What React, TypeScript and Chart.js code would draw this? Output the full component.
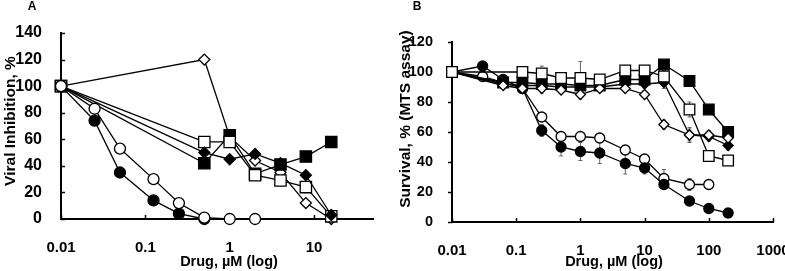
import React, { useEffect, useRef } from 'react';
import { Chart, registerables } from 'chart.js';
Chart.register(...registerables);

// ---------- Panel A: Viral inhibition ----------
const xCirclesA = [0.01, 0.025, 0.05, 0.125, 0.25, 0.5, 1, 2];
const openCirclesA = [100, 83, 53, 30, 12, 1, 0, 0];
const filledCirclesA = [100, 74, 35, 14, 4, 0, null, null];
const xDrugA = [0.01, 0.5, 1, 2, 4, 8, 16];
const filledSquaresA = [100, 42, 63, 34, 41, 47, 58];
const openSquaresA = [100, 58, 58, 33, 29, 24, 2];
const filledDiamondsA = [100, 50, 45, 49, 42, 33, 3];
const openDiamondsA = [100, 120, 62, 44, 35, 12, 0];
const xTicksA = [0.01, 0.1, 1, 10];
const yTicksA = [0, 20, 40, 60, 80, 100, 120, 140];

// ---------- Panel B: Survival (MTS assay) ----------
const xDrugB = [0.01, 0.03, 0.0625, 0.125, 0.25, 0.5, 1, 2, 5, 10, 20, 50, 100, 200];
const filledCirclesB = [100, 104, 95, 89, 61, 50, 47, 46, 39, 36, 25, 14, 9, 6];
const filledCirclesBErr = [0, 3, 3, 2, 4, 6, 6, 7, 7, 4, 2, 2, 1, 1];
const openCirclesB = [100, 97, 93, 89, 70, 57, 57, 56, 48, 42, 29, 25, 25, null];
const openCirclesBErr = [0, 2, 2, 2, 3, 3, 2, 2, 3, 3, 6, 4, 2, 0];
const filledSquaresB = [100, null, 93, 93, 92, 92, 91, 91, 95, 95, 105, 94, 75, 60];
const filledSquaresBErr = [0, 0, 2, 2, 2, 2, 2, 2, 2, 2, 2, 3, 3, 3];
const openSquaresB = [100, null, null, 100, 99, 96, 96, 95, 101, 101, 97, 75, 44, 41];
const openSquaresBErr = [0, 0, 0, 2, 5, 2, 11, 2, 3, 2, 4, 5, 3, 2];
const filledDiamondsB = [100, null, 92, 91, 91, 90, 90, 90, 92, 92, 93, 58, 57, 51];
const filledDiamondsBErr = [0, 0, 2, 2, 2, 2, 2, 2, 2, 2, 4, 4, 3, 3];
const openDiamondsB = [100, null, 91, 89, 89, 88, 85, 89, 89, 85, 65, 58, 58, 56];
const openDiamondsBErr = [0, 0, 2, 2, 3, 2, 3, 2, 2, 2, 3, 5, 3, 2];
const xTicksB = [0.01, 0.1, 1, 10, 100, 1000];
const yTicksB = [0, 20, 40, 60, 80, 100, 120];

const FONT = 'Liberation Sans, Arial, Helvetica, sans-serif';

function series(xs: number[], ys: (number | null)[], style: string, filled: boolean, r: number, errs?: number[]) {
  const data: { x: number; y: number }[] = [];
  const errors: number[] = [];
  xs.forEach((x, i) => {
    const v = ys[i];
    if (v !== null && v !== undefined) {
      data.push({ x, y: v });
      errors.push(errs ? errs[i] : 0);
    }
  });
  return {
    data,
    errors,
    borderColor: '#000',
    borderWidth: 1.3,
    pointBorderColor: '#000',
    pointBorderWidth: 1.3,
    pointBackgroundColor: filled ? '#000' : '#fff',
    pointStyle: style,
    pointRadius: r,
    pointHoverRadius: r,
    clip: false as any,
    tension: 0,
    fill: false,
    spanGaps: true,
  };
}

function ticksPlugin(xDir: number, yDir: number, len: number) {
  return {
    id: 'axisTicks',
    beforeDatasetsDraw(chart: any) {
      const { ctx, chartArea, scales } = chart;
      ctx.save();
      ctx.strokeStyle = '#000';
      ctx.lineWidth = 1.5;
      scales.x.ticks.forEach((t: any) => {
        const px = Math.round(scales.x.getPixelForValue(t.value)) + 0.5;
        ctx.beginPath();
        ctx.moveTo(px, chartArea.bottom);
        ctx.lineTo(px, chartArea.bottom + xDir * len);
        ctx.stroke();
      });
      scales.y.ticks.forEach((t: any) => {
        const py = Math.round(scales.y.getPixelForValue(t.value)) + 0.5;
        ctx.beginPath();
        ctx.moveTo(chartArea.left, py);
        ctx.lineTo(chartArea.left + yDir * len, py);
        ctx.stroke();
      });
      ctx.restore();
    },
  };
}

const errorBarPlugin = {
  id: 'errBars',
  beforeDatasetsDraw(chart: any) {
    const { ctx, scales } = chart;
    ctx.save();
    ctx.strokeStyle = '#666';
    ctx.lineWidth = 1;
    chart.data.datasets.forEach((ds: any) => {
      if (!ds.errors) return;
      ds.data.forEach((p: any, i: number) => {
        const e = ds.errors[i];
        if (!e) return;
        const px = scales.x.getPixelForValue(p.x);
        const y1 = scales.y.getPixelForValue(p.y - e);
        const y2 = scales.y.getPixelForValue(p.y + e);
        ctx.beginPath();
        ctx.moveTo(px, y1);
        ctx.lineTo(px, y2);
        ctx.moveTo(px - 2, y1);
        ctx.lineTo(px + 2, y1);
        ctx.moveTo(px - 2, y2);
        ctx.lineTo(px + 2, y2);
        ctx.stroke();
      });
    });
    ctx.restore();
  },
};

type TextItem = { text: string; x: number; y: number; size: number; rot?: number };
function textPlugin(items: TextItem[]) {
  return {
    id: 'panelText',
    afterDraw(chart: any) {
      const ctx = chart.ctx;
      items.forEach((t) => {
        ctx.save();
        ctx.font = `bold ${t.size}px ${FONT}`;
        ctx.fillStyle = '#000';
        ctx.textAlign = 'center';
        ctx.textBaseline = 'middle';
        ctx.translate(t.x, t.y);
        if (t.rot) ctx.rotate(t.rot);
        ctx.fillText(t.text, 0, 0);
        ctx.restore();
      });
    },
  };
}

function makeScales(xMin: number, xMax: number, xTicks: number[], yMax: number, yTicks: number[], yWidth: number, xHeight: number, ySize: number) {
  return {
    x: {
      type: 'logarithmic' as const,
      min: xMin,
      max: xMax,
      afterBuildTicks: (s: any) => {
        s.ticks = xTicks.map((v) => ({ value: v }));
      },
      afterFit: (s: any) => {
        s.height = xHeight;
        s.paddingLeft = 0;
        s.paddingRight = 0;
      },
      ticks: {
        autoSkip: false,
        maxRotation: 0,
        minRotation: 0,
        padding: 12,
        color: '#000',
        font: { family: FONT, size: 15, weight: 'bold' as const },
        callback: (v: any) => String(v),
      },
      grid: { display: false },
      border: { display: true, color: '#000', width: 2 },
    },
    y: {
      type: 'linear' as const,
      min: 0,
      max: yMax,
      afterBuildTicks: (s: any) => {
        s.ticks = yTicks.map((v) => ({ value: v }));
      },
      afterFit: (s: any) => {
        s.width = yWidth;
        s.paddingTop = 0;
        s.paddingBottom = 0;
      },
      ticks: { padding: 11, color: '#000', font: { family: FONT, size: ySize, weight: 'bold' as const } },
      grid: { display: false },
      border: { display: true, color: '#000', width: 2 },
    },
  };
}

export default function App() {
  const refA = useRef<HTMLCanvasElement>(null);
  const refB = useRef<HTMLCanvasElement>(null);

  useEffect(() => {
    const common = {
      responsive: false,
      animation: false as const,
      events: [] as any[],
      plugins: { legend: { display: false }, tooltip: { enabled: false } },
    };

    const chartA = new Chart(refA.current!, {
      type: 'line',
      data: {
        datasets: [
          series(xCirclesA, openCirclesA, 'circle', false, 5.5),
          series(xCirclesA, filledCirclesA, 'circle', true, 5.5),
          series(xDrugA, filledDiamondsA, 'rectRot', true, 5.5),
          series(xDrugA, openSquaresA, 'rect', false, 8),
          series(xDrugA, filledSquaresA, 'rect', true, 8),
          series(xDrugA, openDiamondsA, 'rectRot', false, 5.5),
        ] as any,
      },
      options: {
        ...common,
        layout: { padding: { left: 0, right: 19, top: 33, bottom: 0 } },
        scales: makeScales(0.01, 50, xTicksA, 140, yTicksA, 61, 52, 16) as any,
      },
      plugins: [
        ticksPlugin(-1, 1, 4),
        textPlugin([
          { text: 'A', x: 32, y: 7, size: 12 },
          { text: 'Viral Inhibition, %', x: 11, y: 121, size: 15.5, rot: -Math.PI / 2 },
          { text: 'Drug, µM (log)', x: 229, y: 262, size: 14.5 },
        ]),
      ],
    });

    const chartB = new Chart(refB.current!, {
      type: 'line',
      data: {
        datasets: [
          series(xDrugB, openSquaresB, 'rect', false, 7.5, openSquaresBErr),
          series(xDrugB, openDiamondsB, 'rectRot', false, 5, openDiamondsBErr),
          series(xDrugB, filledSquaresB, 'rect', true, 7.5, filledSquaresBErr),
          series(xDrugB, filledDiamondsB, 'rectRot', true, 5, filledDiamondsBErr),
          series(xDrugB, filledCirclesB, 'circle', true, 5, filledCirclesBErr),
          series(xDrugB, openCirclesB, 'circle', false, 5, openCirclesBErr),
        ] as any,
      },
      options: {
        ...common,
        layout: { padding: { left: 0, right: 12, top: 42, bottom: 0 } },
        scales: makeScales(0.01, 1000, xTicksB, 120, yTicksB, 60, 49, 14.5) as any,
      },
      plugins: [
        errorBarPlugin,
        ticksPlugin(-1, -1, 4),
        textPlugin([
          { text: 'B', x: 25, y: 7, size: 12 },
          { text: 'Survival, % (MTS assay)', x: 14, y: 119, size: 15.5, rot: -Math.PI / 2 },
          { text: 'Drug, µM (log)', x: 222, y: 262, size: 14.5 },
        ]),
      ],
    });

    return () => {
      chartA.destroy();
      chartB.destroy();
    };
  }, []);

  return (
    <div style={{ position: 'absolute', left: 0, top: 0, width: 785, height: 271, background: '#fff', overflow: 'hidden' }}>
      <canvas ref={refA} width={392} height={271} style={{ position: 'absolute', left: 0, top: 0, display: 'block' }} />
      <canvas ref={refB} width={393} height={271} style={{ position: 'absolute', left: 392, top: 0, display: 'block' }} />
    </div>
  );
}
